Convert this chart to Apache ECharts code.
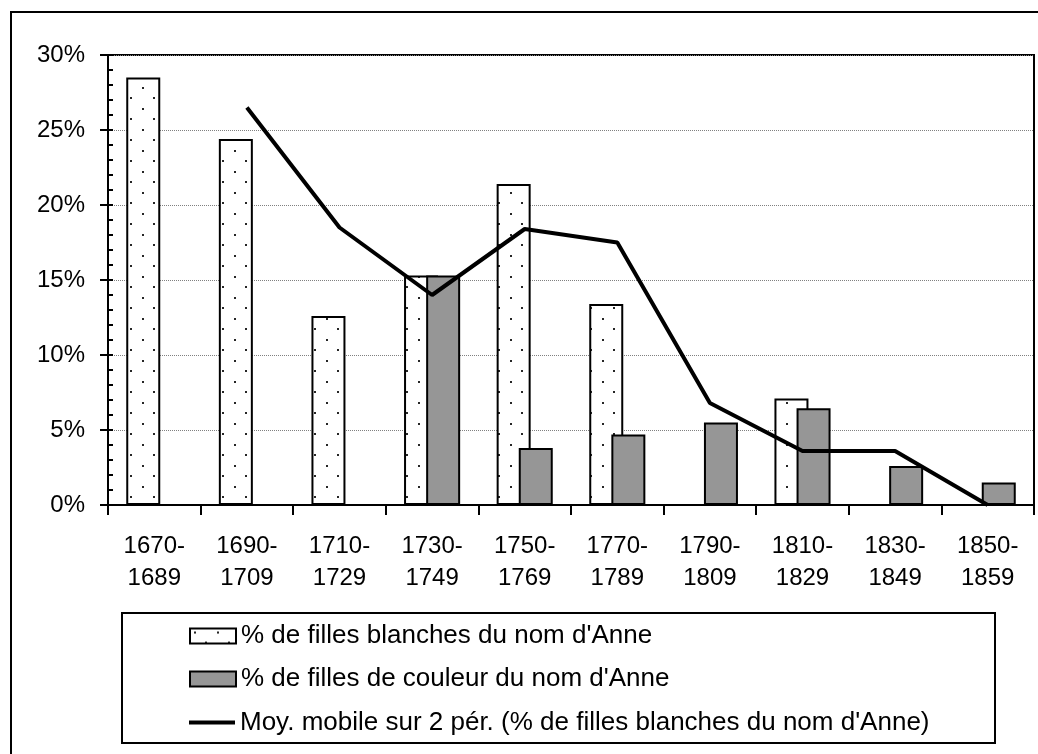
<!DOCTYPE html>
<html>
<head>
<meta charset="utf-8">
<script src="https://cdn.jsdelivr.net/npm/echarts@6/dist/echarts.min.js"></script>
<style>
  html, body { margin: 0; padding: 0; background: #fff; }
  #chart { width: 1038px; height: 754px; }
</style>
</head>
<body>
<div id="chart"></div>
<script>
// Periods (twenty-year cohorts, the last one shorter)
const periods = ['1670-\n1689', '1690-\n1709', '1710-\n1729', '1730-\n1749', '1750-\n1769',
                 '1770-\n1789', '1790-\n1809', '1810-\n1829', '1830-\n1849', '1850-\n1859'];

// Share of girls named Anne, in percent
const whiteGirls    = [28.5, 24.4, 12.6, 15.3, 21.4, 13.4, 0, 7.1, 0, 0];
const colouredGirls = [0, 0, 0, 15.3, 3.8, 4.7, 5.5, 6.45, 2.6, 1.5];
// Two-period moving average of the white series
const movingAvg     = [null, 26.5, 18.5, 14.0, 18.4, 17.5, 6.8, 3.6, 3.6, 0];

const yTicks = { min: 0, max: 30, step: 5 };

const seriesNames = [
  "% de filles blanches du nom d'Anne",
  "% de filles de couleur du nom d'Anne",
  "Moy. mobile sur 2 pér. (% de filles blanches du nom d'Anne)"
];

// Dotted fill for the white bars
function dotPattern() {
  const c = document.createElement('canvas');
  c.width = 23; c.height = 21;
  const g = c.getContext('2d');
  g.fillStyle = '#ffffff';
  g.fillRect(0, 0, 23, 21);
  g.fillStyle = '#262626';
  g.fillRect(4, 3, 2, 2);
  g.fillRect(15, 13, 2, 2);
  return c;
}

const FONT = "'Liberation Sans', Arial, sans-serif";
const chart = echarts.init(document.getElementById('chart'), null, { renderer: 'canvas' });

const legendText = { fontSize: 26, lineHeight: 30, color: '#000', fontFamily: FONT };

chart.setOption({
  backgroundColor: '#ffffff',
  animation: false,
  textStyle: { fontFamily: FONT, color: '#000' },
  graphic: [
    { type: 'rect', shape: { x: 11, y: 12, width: 1100, height: 800 },
      style: { fill: 'none', stroke: '#000', lineWidth: 2 }, silent: true },
    { type: 'rect', shape: { x: 122, y: 613, width: 873, height: 130 },
      style: { fill: 'none', stroke: '#000', lineWidth: 2 }, silent: true }
  ],
  grid: {
    left: 108, top: 55, right: 4, bottom: 249,
    show: true, borderColor: '#000', borderWidth: 2, backgroundColor: 'transparent'
  },
  legend: [
    {
      orient: 'vertical',
      left: 189, top: 621,
      padding: 0,
      itemWidth: 46, itemHeight: 15,
      itemGap: 13,
      textStyle: legendText,
      data: [
        { name: seriesNames[0], icon: 'rect' },
        { name: seriesNames[1], icon: 'rect' }
      ]
    },
    {
      orient: 'vertical',
      left: 189, top: 707.5,
      padding: 0,
      itemWidth: 46, itemHeight: 4,
      textStyle: legendText,
      data: [{ name: seriesNames[2], icon: 'rect' }]
    }
  ],
  xAxis: {
    type: 'category',
    data: periods,
    boundaryGap: true,
    axisLine: { lineStyle: { color: '#000', width: 2 } },
    axisTick: { show: true, length: 10, lineStyle: { color: '#000', width: 2 } },
    axisLabel: { fontSize: 24, lineHeight: 32, margin: 25, color: '#000', fontFamily: FONT, interval: 0 },
    splitLine: { show: false }
  },
  yAxis: [
    {
      type: 'value', position: 'left',
      min: yTicks.min, max: yTicks.max, interval: yTicks.step,
      axisLine: { show: true, lineStyle: { color: '#000', width: 2 } },
      axisTick: { show: true, length: 8, lineStyle: { color: '#000', width: 2 } },
      axisLabel: { fontSize: 24, margin: 23, color: '#000', fontFamily: FONT, formatter: '{value}%' },
      splitLine: { show: true, lineStyle: { color: '#808080', width: 1, type: [1, 1] } }
    },
    {
      // minor ticks drawn inside the plot
      type: 'value', position: 'left', offset: 0,
      min: yTicks.min, max: yTicks.max, interval: 1,
      axisLine: { show: false },
      axisTick: { show: true, inside: true, length: 5, lineStyle: { color: '#000', width: 2 } },
      axisLabel: { show: false },
      splitLine: { show: false }
    }
  ],
  series: [
    {
      name: seriesNames[0],
      type: 'bar',
      data: whiteGirls,
      barWidth: 34,
      barGap: '-35%',
      itemStyle: { color: { image: dotPattern(), repeat: 'repeat' }, borderColor: '#000', borderWidth: 2 },
      z: 2
    },
    {
      name: seriesNames[1],
      type: 'bar',
      data: colouredGirls,
      barWidth: 34,
      barGap: '-35%',
      itemStyle: { color: '#969696', borderColor: '#000', borderWidth: 2 },
      z: 3
    },
    {
      name: seriesNames[2],
      type: 'line',
      data: movingAvg,
      symbol: 'none',
      showSymbol: false,
      lineStyle: { color: '#000', width: 4 },
      itemStyle: { color: '#000' },
      z: 4
    }
  ]
});
</script>
</body>
</html>
